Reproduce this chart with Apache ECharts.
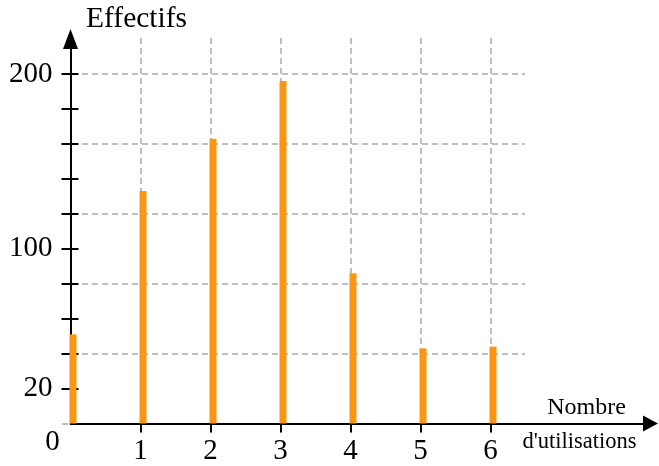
<!DOCTYPE html>
<html><head><meta charset="utf-8">
<script src="https://cdn.jsdelivr.net/npm/echarts@6/dist/echarts.min.js"></script>
<style>html,body{margin:0;padding:0;background:#fff}#c{width:659px;height:466px}</style>
</head><body><div id="c"></div>
<script>
// Data
const categories = [0, 1, 2, 3, 4, 5, 6];
const effectifs = [51, 133, 163, 196, 86, 43, 44];
const yTickValues = [20, 40, 60, 80, 100, 120, 140, 160, 180, 200];
const yLabelValues = [20, 100, 200];
const xTickValues = [1, 2, 3, 4, 5, 6];

const FONT = '"Liberation Serif", "Times New Roman", serif';
const ORANGE = '#fb9514';
const gridDash = { color: '#aaaaaa', width: 1.5, type: [6, 4] };

const chart = echarts.init(document.getElementById('c'), null, { renderer: 'canvas' });
const bottom = 42.5;
const pxPerX = 70;
const pxPerY = 349.5 / 200;
const x0 = 70.5;
const yMaxMain = 384.5 / pxPerY;
const xMaxMain = 580 / pxPerX;

chart.setOption({
  animation: false,
  grid: [
    { left: x0, bottom: bottom, width: 580, height: 384.5, containLabel: false },
    { left: x0, bottom: bottom, width: 6 * pxPerX, height: 385.5, containLabel: false },
    { left: 62, bottom: bottom, width: 463, height: 200 * pxPerY, containLabel: false },
    { left: x0 + 2.5, bottom: bottom, width: 6 * pxPerX, height: 200 * pxPerY, containLabel: false }
  ],
  xAxis: [
    { gridIndex: 0, type: 'value', min: 0, max: xMaxMain, z: 5,
      axisLine: { show: true, lineStyle: { color: '#000', width: 2 }, symbol: ['none', 'triangle'], symbolSize: [16, 15] },
      axisTick: { show: true, length: 9, inside: false, customValues: xTickValues, lineStyle: { color: '#000', width: 2 } },
      axisLabel: { show: true, customValues: xTickValues, margin: 13, color: '#000', fontFamily: FONT, fontSize: 29, lineHeight: 29 },
      splitLine: { show: false } },
    { gridIndex: 1, type: 'value', min: 0, max: 6, interval: 1,
      axisLine: { show: false }, axisTick: { show: false }, axisLabel: { show: false },
      splitLine: { show: true, lineStyle: gridDash } },
    { gridIndex: 2, type: 'value', min: 0, max: 1, show: false },
    { gridIndex: 3, type: 'value', min: 0, max: 6, show: false }
  ],
  yAxis: [
    { gridIndex: 0, type: 'value', min: 0, max: yMaxMain, z: 5, position: 'left',
      axisLine: { show: true, lineStyle: { color: '#000', width: 2 }, symbol: ['none', 'triangle'], symbolSize: [15, 20] },
      axisTick: { show: true, length: 9, inside: false, customValues: yTickValues, lineStyle: { color: '#000', width: 2 } },
      axisLabel: { show: true, customValues: yLabelValues, margin: 18, color: '#000', fontFamily: FONT, fontSize: 29 },
      splitLine: { show: false } },
    { gridIndex: 0, type: 'value', min: 0, max: yMaxMain, z: 5, position: 'left',
      axisLine: { show: false },
      axisTick: { show: true, length: 8, inside: true, customValues: yTickValues, lineStyle: { color: '#000', width: 2 } },
      axisLabel: { show: false },
      splitLine: { show: false } },
    { gridIndex: 1, type: 'value', min: 0, max: 1, show: false },
    { gridIndex: 2, type: 'value', min: 0, max: 200, interval: 40,
      axisLine: { show: false }, axisTick: { show: false }, axisLabel: { show: false },
      splitLine: { show: true, lineStyle: gridDash } },
    { gridIndex: 3, type: 'value', min: 0, max: 200, show: false }
  ],
  series: [{
    type: 'bar',
    xAxisIndex: 3, yAxisIndex: 4,
    barWidth: 7,
    clip: false,
    z: 10,
    itemStyle: { color: ORANGE },
    data: categories.map((c, i) => [c, effectifs[i]])
  }],
  graphic: [
    { type: 'text', x: 86, y: 19.5, style: { text: 'Effectifs', fontFamily: FONT, fontSize: 29.5, fill: '#000', align: 'left', verticalAlign: 'middle' } },
    { type: 'text', x: 586.5, y: 407.5, style: { text: 'Nombre', fontFamily: FONT, fontSize: 24, fill: '#000', align: 'center', verticalAlign: 'middle' } },
    { type: 'text', x: 579.5, y: 441.6, style: { text: "d'utilisations", fontFamily: FONT, fontSize: 22.5, fill: '#000', align: 'center', verticalAlign: 'middle' } },
    { type: 'text', x: 52.5, y: 442.5, style: { text: '0', fontFamily: FONT, fontSize: 29, fill: '#000', align: 'center', verticalAlign: 'middle' } }
  ]
});
</script></body></html>
